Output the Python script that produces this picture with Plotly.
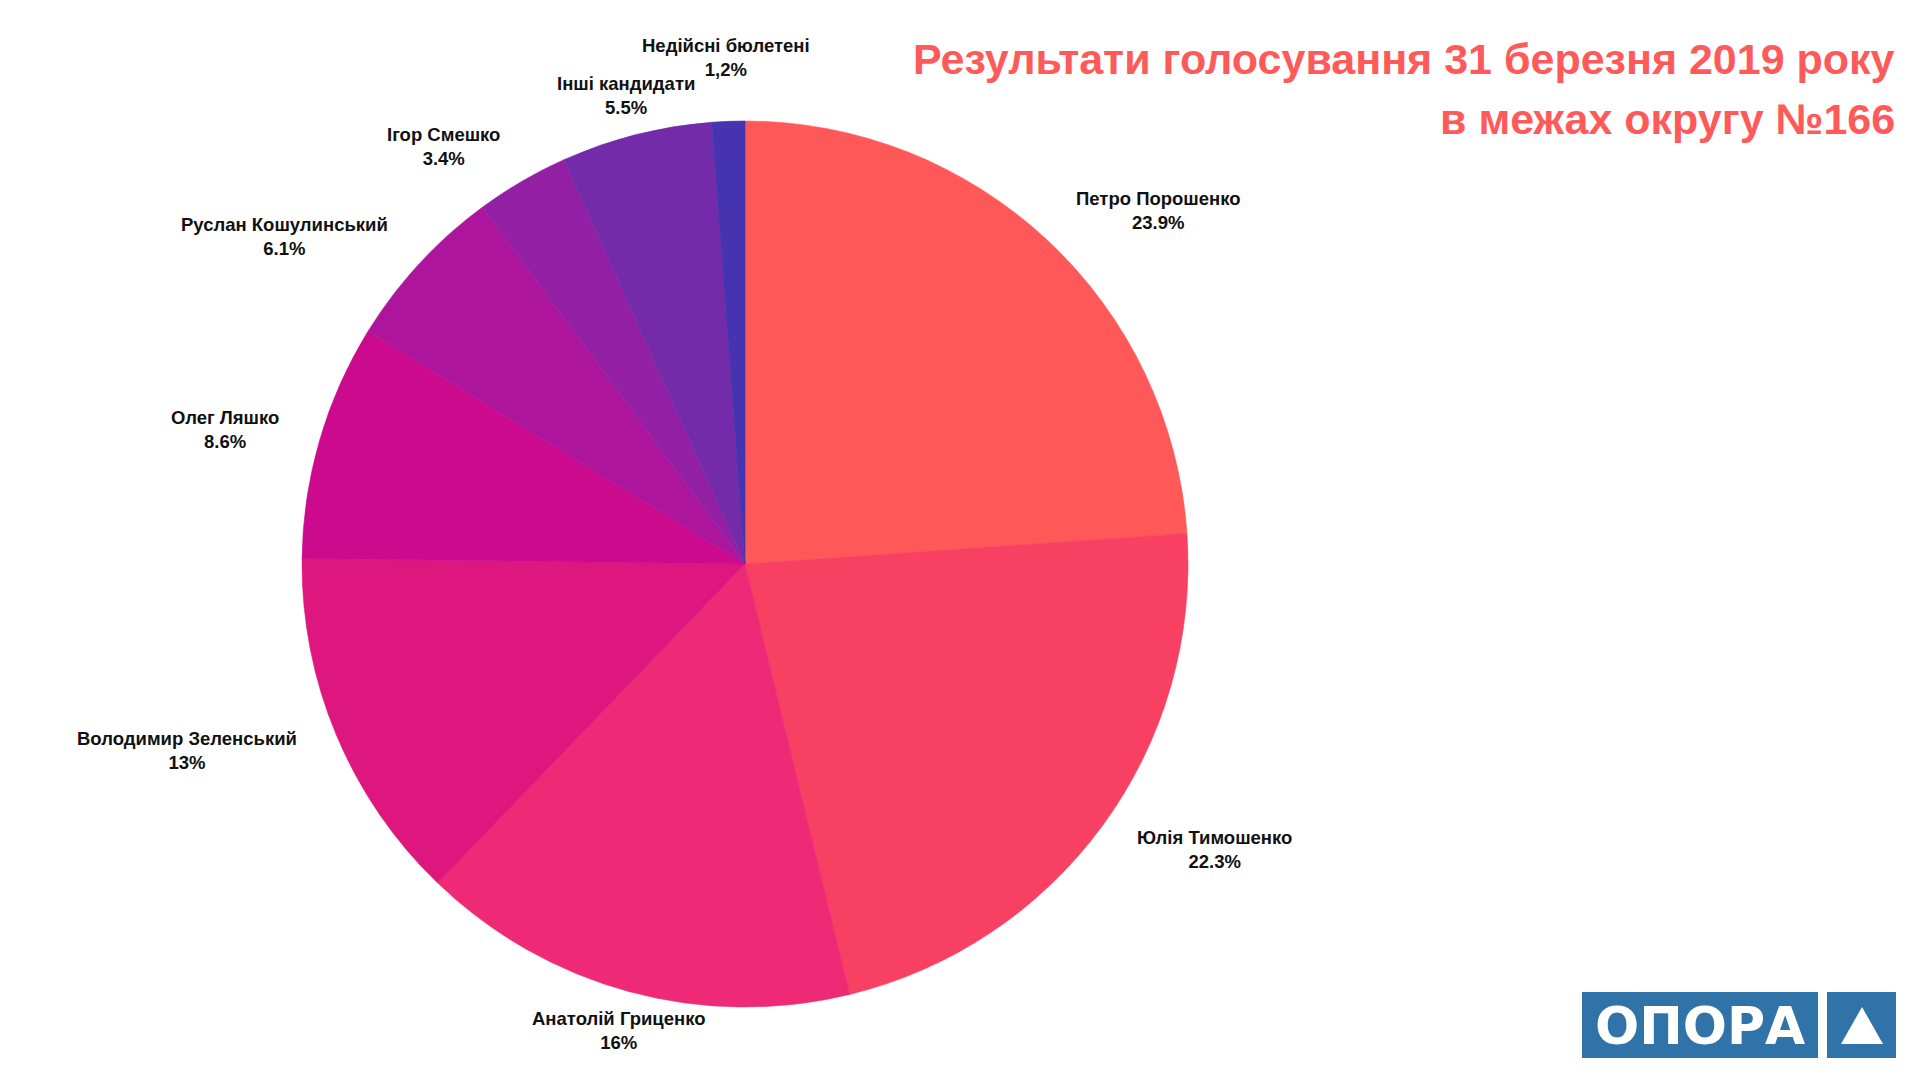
import math
import plotly.graph_objects as go

# ---- data ----
candidates = ["Петро Порошенко", "Юлія Тимошенко", "Анатолій Гриценко",
              "Володимир Зеленський", "Олег Ляшко", "Руслан Кошулинський",
              "Ігор Смешко", "Інші кандидати", "Недійсні бюлетені"]
shares = [23.9, 22.3, 16, 13, 8.6, 6.1, 3.4, 5.5, 1.2]
share_labels = ["23.9%", "22.3%", "16%", "13%", "8.6%", "6.1%", "3.4%", "5.5%", "1,2%"]
slice_colors = ["#FF5858", "#F84062", "#EE2A76", "#DE177F", "#CB0A8E",
                "#AD169C", "#9320A4", "#742BA9", "#4533AF"]
title_lines = ["Результати голосування 31 березня 2019 року", "в межах округу №166"]

W, H = 1920, 1080
OFF = 8                            # page body margin
CX, CY, R = 745, 564, 443          # pie centre / radius in px (screen)
LABEL_R = 1.09 * R                 # label anchor radius
FONT = "Liberation Sans, Arial, sans-serif"

def px(x):
    return (x - OFF) / W

def py(y):
    return 1 - (y - OFF) / H

fig = go.Figure(go.Pie(
    labels=candidates, values=shares, sort=False, direction="clockwise",
    rotation=0, marker=dict(colors=slice_colors, line=dict(width=0.6, color=slice_colors)),
    textinfo="none", hoverinfo="label+percent", showlegend=False,
    domain=dict(x=[px(CX - R), px(CX + R)], y=[py(CY + R), py(CY - R)]),
))

# ---- labels placed from the data (mid-angle of each slice) ----
total = sum(shares)
annotations = []
placed = []
cum = 0.0
for name, val, lab in zip(candidates, shares, share_labels):
    mid = (cum + val / 2) / total * 2 * math.pi
    cum += val
    ux, uy = math.sin(mid), -math.cos(mid)
    bw = len(name) * 11.1
    hh = 19
    r = LABEL_R
    while True:
        ax, ay = CX + ux * r, CY + uy * r
        if abs(ux) < 0.4:
            xa = "center"; x0, x1 = ax - bw / 2, ax + bw / 2
        elif ux > 0:
            xa = "left"; x0, x1 = ax, ax + bw
        else:
            xa = "right"; x0, x1 = ax - bw, ax
        y0, y1 = ay - hh, ay + hh
        clash = any(not (x1 <= b[0] or x0 >= b[1] or y1 <= b[2] or y0 >= b[3]) for b in placed)
        if not clash:
            break
        r += 1
    placed.append((x0, x1, y0, y1))
    annotations.append(dict(
        x=px(ax), y=py(ay), xref="paper", yref="paper", xanchor=xa, yanchor="middle",
        text=f"<b>{name}</b><br><b>{lab}</b>", showarrow=False, align="center",
        font=dict(family=FONT, size=18.5, color="#111111"),
    ))

# ---- title ----
for i, line in enumerate(title_lines):
    annotations.append(dict(
        x=px(1897), y=py(59 + i * 60), xref="paper", yref="paper",
        xanchor="right", yanchor="middle", showarrow=False,
        text=f"<b>{line}</b>", font=dict(family=FONT, size=43, color="#FF5A5A"),
    ))

# ---- logo ----
logo_blue = "#2F73A9"
shapes = [
    dict(type="rect", xref="paper", yref="paper", x0=px(1582), x1=px(1818),
         y0=py(1058), y1=py(992), fillcolor=logo_blue, line=dict(width=0)),
    dict(type="rect", xref="paper", yref="paper", x0=px(1827), x1=px(1896),
         y0=py(1058), y1=py(992), fillcolor=logo_blue, line=dict(width=0)),
    dict(type="path", xref="paper", yref="paper",
         path=f"M {px(1841)},{py(1044)} L {px(1883)},{py(1044)} L {px(1862)},{py(1007)} Z",
         fillcolor="white", line=dict(width=0)),
]
annotations.append(dict(
    x=px(1700), y=py(1026), xref="paper", yref="paper", xanchor="center", yanchor="middle",
    showarrow=False, text="<b>ОПОРА</b>",
    font=dict(family="DejaVu Sans, Liberation Sans, sans-serif", size=52, color="white"),
))

fig.update_layout(
    width=W, height=H, margin=dict(l=0, r=0, t=0, b=0),
    paper_bgcolor="white", plot_bgcolor="white",
    annotations=annotations, shapes=shapes,
)

fig.write_html("out.html")
